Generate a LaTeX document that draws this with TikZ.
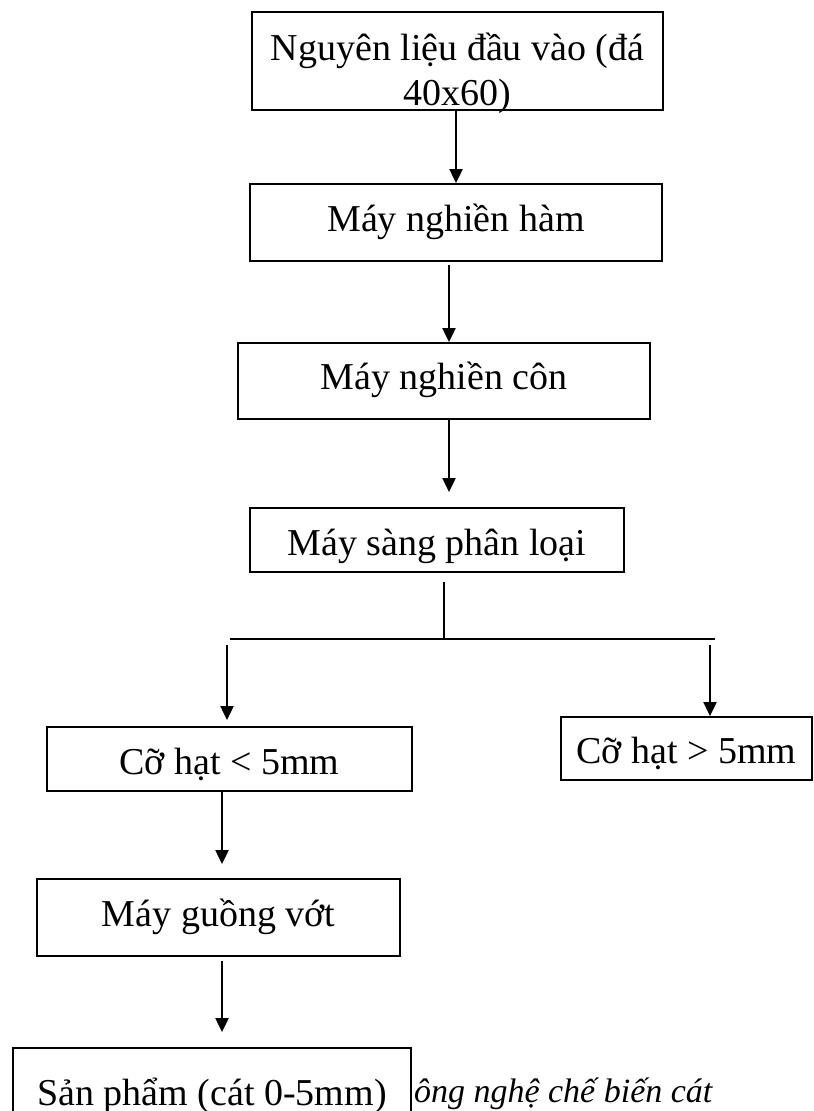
\documentclass[tikz,border=0pt]{standalone}
\usepackage{fontspec}
\setmainfont{Liberation Serif}
\usetikzlibrary{arrows.meta}

\begin{document}
\begin{tikzpicture}[x=0.5pt,y=-0.5pt,line width=1pt,>={Triangle[length=7pt,width=6.5pt]},
  stepbox/.style={draw,line width=0.9pt,inner sep=0pt,text height=13pt,text depth=4pt,font=\fontsize{19}{22.5}\selectfont},
  lowtext/.style={text height=17pt,text depth=2pt},
  splitline/.style={line width=0.8pt}]
\useasboundingbox (0,0) rectangle (813,1111);
% main line
\node[stepbox,minimum width=205.5pt,minimum height=49pt] (input) at (457.5,61) {};
\node[inner sep=0pt,align=center,font=\fontsize{19}{22.5}\selectfont] (inputtext) at (457.5,73) {Nguyên liệu đầu vào (đá\\40x60)};
\node[stepbox,minimum width=206pt,minimum height=38.5pt] (jaw) at (456,222.5) {Máy nghiền hàm};
\node[stepbox,minimum width=206pt,minimum height=38pt] (cone) at (444,381) {Máy nghiền côn};
\node[stepbox,lowtext,minimum width=187pt,minimum height=32pt] (screen) at (437,540) {Máy sàng phân loại};
\draw[->] (input.south -| 456,0) -- (jaw.north -| 456,0);
\draw[->,shorten <=1.5pt] (jaw.south -| 449,0) -- (cone.north -| 449,0);
\draw[->,shorten >=7.5pt] (cone.south -| 449,0) -- (screen.north -| 449,0);
% split after screening
\coordinate (splittop) at (444,582);
\coordinate (split) at (444,639);
\coordinate (splitL) at (230,639);
\coordinate (splitR) at (715,639);
\draw[splitline] (splittop) -- (split);
\draw[splitline] (splitL) -- (splitR);
\node[stepbox,lowtext,minimum width=182.5pt,minimum height=32pt] (fine) at (229.5,759) {Cỡ hạt < 5mm};
\node[stepbox,lowtext,minimum width=125.5pt,minimum height=31.5pt] (coarse) at (686.5,748.5) {Cỡ hạt > 5mm};
\coordinate (startL) at (227,645);
\coordinate (startR) at (710,645);
\draw[->,shorten >=3pt] (startL) -- (fine.north -| startL);
\draw[->] (startR) -- (coarse.north -| startR);
% fine branch
\node[stepbox,minimum width=181.5pt,minimum height=38.5pt] (wash) at (218.5,917.5) {Máy guồng vớt};
\node[stepbox,minimum width=199pt,minimum height=48pt] (product) at (212,1096) {Sản phẩm (cát 0-5mm)};
\draw[->,shorten >=7pt] (fine.south -| 222,0) -- (wash.north -| 222,0);
\draw[->,shorten <=2pt,shorten >=7.5pt] (wash.south -| 222,0) -- (product.north -| 222,0);
\node[anchor=base west,inner sep=0pt,font=\fontsize{17}{20}\selectfont\itshape] (caption) at (413,1102) {ông nghệ chế biến cát};
\end{tikzpicture}
\end{document}
